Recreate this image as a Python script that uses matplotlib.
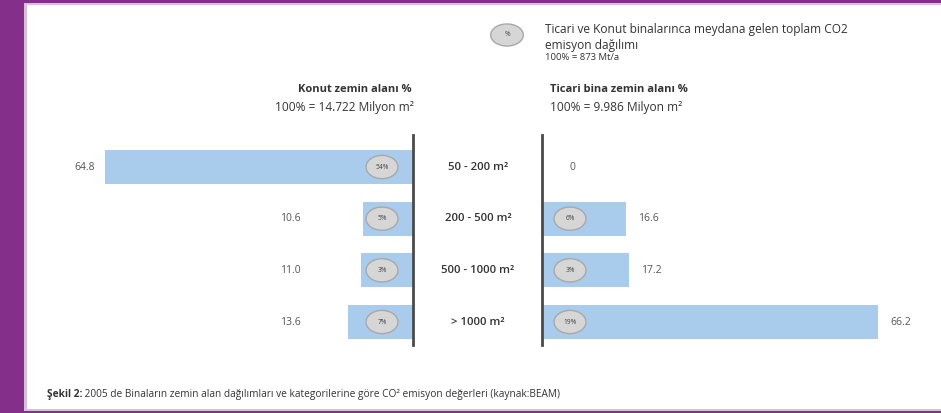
import matplotlib
matplotlib.use("Agg")
import matplotlib.pyplot as plt
from matplotlib.patches import Ellipse, Rectangle
from matplotlib.transforms import blended_transform_factory

plt.rcParams['font.family'] = ['Open Sans', 'DejaVu Sans']

# ---- data ----
categories = ["50 - 200 m²", "200 - 500 m²", "500 - 1000 m²", "> 1000 m²"]
konut_values = [64.8, 10.6, 11.0, 13.6]
ticari_values = [0, 16.6, 17.2, 66.2]
konut_co2 = ["54%", "5%", "3%", "7%"]
ticari_co2 = [None, "6%", "3%", "19%"]
left_title = "Konut zemin alanı %"
left_sub = "100% = 14.722 Milyon m²"
right_title = "Ticari bina zemin alanı %"
right_sub = "100% = 9.986 Milyon m²"
legend_lines = ["Ticari ve Konut binalarınca meydana gelen toplam CO2",
                "emisyon dağılımı", "100% = 873 Mt/a"]
caption_bold = "Şekil 2:"
caption_rest = " 2005 de Binaların zemin alan dağılımları ve kategorilerine göre CO² emisyon değerleri (kaynak:BEAM)"

W, H = 941, 413
fig = plt.figure(figsize=(W / 100, H / 100), dpi=100)
purple = "#84308a"
fig.patch.set_facecolor(purple)

def fx(px):
    return px / W

def fy(py):
    return 1 - py / H

# white panel with lavender edge (drawn behind everything)
fig.patches.append(Rectangle((fx(24), fy(411)), fx(W - 24), (411 - 3) / H,
                             transform=fig.transFigure, facecolor="#d9c0da",
                             edgecolor="none", zorder=-10))
fig.patches.append(Rectangle((fx(27), fy(409)), fx(W - 27), (409 - 5) / H,
                             transform=fig.transFigure, facecolor="white",
                             edgecolor="none", zorder=-9))

bar_color = "#a9cbec"
line_color = "#4a4a4a"
txt = "#333333"

top, bot = 135, 345
y_top, y_bot = -0.62, 3.445
bar_h = 0.66

# left axes
lx0, lx1 = 60, 413
ax_l = fig.add_axes([fx(lx0), fy(bot), fx(lx1 - lx0), (bot - top) / H])
ax_l.set_facecolor("none")
scale_l = (lx1 - 105) / 64.8
ax_l.set_xlim((lx1 - lx0) / scale_l, 0)
ax_l.set_ylim(y_bot, y_top)
ypos = list(range(len(categories)))
ax_l.barh(ypos, konut_values, height=bar_h, color=bar_color, zorder=2)

# right axes
rx0, rx1 = 542, 930
ax_r = fig.add_axes([fx(rx0), fy(bot), fx(rx1 - rx0), (bot - top) / H])
ax_r.set_facecolor("none")
scale_r = (878 - rx0) / 66.2
ax_r.set_xlim(0, (rx1 - rx0) / scale_r)
ax_r.set_ylim(y_bot, y_top)
ax_r.barh(ypos, ticari_values, height=bar_h, color=bar_color, zorder=2)

for ax in (ax_l, ax_r):
    ax.set_xticks([])
    ax.set_yticks([])
    for s in ax.spines.values():
        s.set_visible(False)
ax_l.spines['right'].set_visible(True)
ax_l.spines['right'].set_color(line_color)
ax_l.spines['right'].set_linewidth(2)
ax_r.spines['left'].set_visible(True)
ax_r.spines['left'].set_color(line_color)
ax_r.spines['left'].set_linewidth(2)

# value labels
for y, v in zip(ypos, konut_values):
    ax_l.text(max(v, 21.5) + 2.1, y, f"{v:.1f}", ha="right", va="center",
              fontsize=7.5, color="#555555")
for y, v in zip(ypos, ticari_values):
    lab = "0" if v == 0 else f"{v:.1f}"
    ax_r.text(max(v, 3.1) + 2.4, y, lab, ha="left", va="center",
              fontsize=7.5, color="#555555")

# co2 ovals
def oval(ax, xc, y, w_units, label):
    e = Ellipse((xc, y), w_units, 0.45, facecolor="#d6d6d6", edgecolor="#a8a8a8",
                linewidth=1.0, zorder=3)
    ax.add_patch(e)
    ax.text(xc, y, label, ha="center", va="center", fontsize=4.8,
            color="#444444", zorder=4)

for y, lab in zip(ypos, konut_co2):
    if lab:
        oval(ax_l, 31 / scale_l, y, 32 / scale_l, lab)
for y, lab in zip(ypos, ticari_co2):
    if lab:
        oval(ax_r, 28 / scale_r, y, 32 / scale_r, lab)

# category labels in centre
tr = blended_transform_factory(fig.transFigure, ax_l.transData)
for y, c in zip(ypos, categories):
    ax_l.text(fx(478), y, c, transform=tr, ha="center", va="center",
              fontsize=8.2, fontweight="semibold", color=txt)

# headers
fig.text(fx(412), fy(90), left_title, ha="right", va="center", fontsize=8.0,
         fontweight="bold", color=txt)
fig.text(fx(414), fy(108), left_sub, ha="right", va="center", fontsize=8.6, color=txt)
fig.text(fx(550), fy(90), right_title, ha="left", va="center", fontsize=8.0,
         fontweight="bold", color=txt)
fig.text(fx(550), fy(108), right_sub, ha="left", va="center", fontsize=8.6, color=txt)

# legend oval + text
lax = fig.add_axes([fx(490), fy(47), fx(34), 24 / H])
lax.set_xlim(0, 1)
lax.set_ylim(0, 1)
lax.axis("off")
lax.add_patch(Ellipse((0.5, 0.5), 0.96, 0.92, facecolor="#d6d6d6",
                      edgecolor="#a8a8a8", linewidth=1.0))
lax.text(0.5, 0.5, "%", ha="center", va="center", fontsize=4.8, color="#444444")
fig.text(fx(545), fy(29), legend_lines[0], ha="left", va="center", fontsize=8.6, color=txt)
fig.text(fx(545), fy(45), legend_lines[1], ha="left", va="center", fontsize=8.6, color=txt)
fig.text(fx(545), fy(58), legend_lines[2], ha="left", va="center", fontsize=6.8, color=txt)

# caption
t = fig.text(fx(47), fy(395), caption_bold, ha="left", va="center", fontsize=7.3,
             fontweight="bold", color=txt)
fig.canvas.draw()
bb = t.get_window_extent()
fig.text(bb.x1 / W, fy(395), caption_rest, ha="left", va="center", fontsize=7.3, color=txt)

fig.savefig("out.png", dpi=100, facecolor=fig.get_facecolor())
